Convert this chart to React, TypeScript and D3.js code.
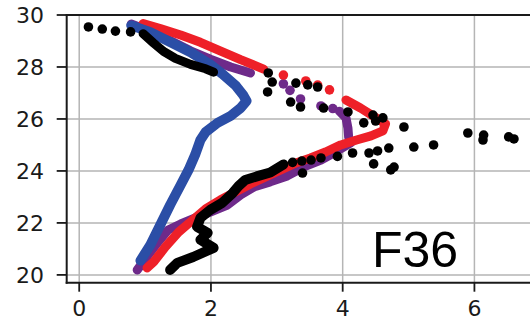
import React from "react";
import * as d3 from "d3";

const xTicks = [0, 2, 4, 6];
const yTicks = [20, 22, 24, 26, 28, 30];
const label = "F36";

type P = [number, number];

// Blue profile
const blueLine: P[] = [
  [0.79, 29.6], [1.08, 29.34], [1.38, 28.96], [1.69, 28.57], [1.99, 28.1],
  [2.17, 27.74], [2.37, 27.3], [2.49, 26.92], [2.54, 26.69], [2.45, 26.42],
  [2.3, 26.12], [2.1, 25.85], [1.92, 25.5], [1.84, 25.19], [1.76, 24.62],
  [1.66, 24.04], [1.54, 23.46], [1.38, 22.69], [1.23, 21.92], [1.08, 21.15],
  [0.93, 20.55],
];

// Red profile
const redUpper: P[] = [
  [0.97, 29.67], [1.23, 29.48], [1.54, 29.23], [1.84, 28.95], [2.14, 28.62],
  [2.45, 28.28], [2.8, 27.92],
];
const redDots: P[] = [
  [3.1, 27.69], [3.44, 27.46], [3.62, 27.3], [3.8, 27.12],
];
const redLower: P[] = [
  [4.05, 26.73], [4.27, 26.42], [4.46, 26.12], [4.65, 25.81], [4.61, 25.54],
  [4.43, 25.35], [4.21, 25.19], [3.97, 25.0], [3.74, 24.73], [3.51, 24.5],
  [3.29, 24.31], [3.06, 24.04], [2.83, 23.77], [2.6, 23.5], [2.37, 23.19],
  [2.14, 22.88], [1.92, 22.54], [1.69, 22.04], [1.51, 21.65], [1.31, 21.08],
  [1.13, 20.5], [1.03, 20.27],
];

// Purple profile
const purpleUpper: P[] = [
  [0.79, 29.65], [1.08, 29.38], [1.38, 29.02], [1.69, 28.62], [1.99, 28.3],
  [2.3, 28.0], [2.6, 27.77],
];
const purpleDots: P[] = [
  [3.1, 27.35], [3.2, 27.1], [3.36, 26.77], [3.67, 26.5], [3.85, 26.4],
];
const purpleLower: P[] = [
  [3.95, 26.3], [4.05, 26.04], [4.08, 25.65], [4.09, 25.31], [4.12, 25.08],
  [3.89, 24.73], [3.67, 24.42], [3.44, 24.19], [3.16, 23.81], [2.9, 23.58],
  [2.65, 23.38], [2.45, 23.08], [2.25, 22.69], [1.99, 22.42], [1.76, 22.19],
  [1.54, 21.96], [1.35, 21.73], [1.2, 21.27], [1.05, 20.77], [0.88, 20.19],
];

// Black profile
const blackTopDots: P[] = [
  [0.14, 29.54], [0.35, 29.46], [0.55, 29.38], [0.78, 29.35],
];
const blackUpper: P[] = [
  [0.97, 29.28], [1.13, 28.92], [1.28, 28.6], [1.46, 28.33], [1.69, 28.1],
  [1.92, 27.93], [2.04, 27.8],
];
const blackScatter: P[] = [
  [2.87, 27.77], [2.93, 27.42], [2.86, 27.04], [3.29, 27.38], [3.47, 27.31],
  [3.62, 27.23], [3.21, 26.65], [3.36, 26.46], [3.71, 26.42], [4.08, 26.27],
  [4.46, 26.15], [4.61, 26.04], [4.32, 25.85], [4.5, 25.92], [4.93, 25.69],
  [5.9, 25.46], [6.14, 25.38], [6.13, 25.19], [6.52, 25.31], [6.6, 25.23],
  [5.38, 25.0], [5.08, 24.92], [4.7, 24.88], [4.53, 24.77], [4.4, 24.69],
  [4.47, 24.27], [4.78, 24.15], [4.73, 24.04], [3.39, 23.92],
  [4.15, 24.69], [3.92, 24.56], [3.67, 24.5], [3.52, 24.42], [3.38, 24.38],
  [3.24, 24.33],
];
const blackLower: P[] = [
  [3.1, 24.25], [2.9, 23.94], [2.72, 23.81], [2.52, 23.65], [2.42, 23.42],
  [2.33, 23.15], [2.17, 22.77], [1.99, 22.5], [1.84, 22.19], [1.79, 21.85],
  [1.95, 21.62], [1.84, 21.35], [2.04, 21.04], [1.73, 20.69], [1.49, 20.46],
  [1.38, 20.19],
];

const W = 530;
const H = 321;
const left = 66.7;
const right = 533.7;
const top = 15;
const bottom = 282.7;

const BLACK = "#000000";
const RED = "#ee2028";
const BLUE = "#2b4ea6";
const PURPLE = "#6e2a8a";

export default function App() {
  const x = d3.scaleLinear().domain([-0.19, 6.9]).range([left, right]);
  const y = d3.scaleLinear().domain([19.7, 30]).range([bottom, top]);
  const line = d3
    .line<P>()
    .x((d) => x(d[0]))
    .y((d) => y(d[1]))
    .curve(d3.curveLinear);

  const lineEl = (data: P[], color: string, key: string, w = 9) => (
    <path
      key={key}
      d={line(data) || ""}
      fill="none"
      stroke={color}
      strokeWidth={w}
      strokeLinecap="round"
      strokeLinejoin="round"
    />
  );
  const dotsEl = (data: P[], color: string, key: string) => (
    <g key={key}>
      {data.map((d, i) => (
        <circle key={i} cx={x(d[0])} cy={y(d[1])} r={4.8} fill={color} />
      ))}
    </g>
  );

  return (
    <svg
      width={W}
      height={H}
      style={{ position: "absolute", left: 0, top: 0, background: "#fff" }}
    >
      <defs>
        <clipPath id="plot">
          <rect x={left} y={top} width={right - left} height={bottom - top} />
        </clipPath>
      </defs>
      {/* grid */}
      <g stroke="#b5b5b5" strokeWidth={1.5}>
        {xTicks.map((t) => (
          <line key={"gx" + t} x1={x(t)} x2={x(t)} y1={top} y2={bottom} />
        ))}
        {yTicks.map((t) => (
          <line key={"gy" + t} x1={left} x2={right} y1={y(t)} y2={y(t)} />
        ))}
      </g>
      {/* data */}
      <g clipPath="url(#plot)">
        {lineEl(purpleUpper, PURPLE, "pu")}
        {dotsEl(purpleDots, PURPLE, "pd")}
        {lineEl(purpleLower, PURPLE, "pl")}
        {lineEl(redUpper, RED, "ru")}
        {dotsEl(redDots, RED, "rd")}
        {lineEl(redLower, RED, "rl")}
        {lineEl(blueLine, BLUE, "bl", 10)}
        {dotsEl(blackTopDots, BLACK, "kt")}
        {lineEl(blackUpper, BLACK, "ku", 9)}
        {dotsEl(blackScatter, BLACK, "ks")}
        {lineEl(blackLower, BLACK, "kl", 10)}
      </g>
      {/* spines */}
      <g stroke="#1a1a1a" strokeWidth={2} fill="none">
        <line x1={left} x2={left} y1={top - 1} y2={bottom + 1} />
        <line x1={left - 1} x2={right} y1={bottom} y2={bottom} />
        <line x1={left - 1} x2={right} y1={top} y2={top} />
        <line x1={right} x2={right} y1={top} y2={bottom} />
      </g>
      {/* ticks */}
      <g stroke="#1a1a1a" strokeWidth={1.8}>
        {xTicks.map((t) => (
          <line key={"tx" + t} x1={x(t)} x2={x(t)} y1={bottom} y2={bottom + 9} />
        ))}
        {yTicks.map((t) => (
          <line key={"ty" + t} x1={left - 10} x2={left} y1={y(t)} y2={y(t)} />
        ))}
      </g>
      <g
        fontFamily="DejaVu Sans, sans-serif"
        fontSize={22}
        fill="#1a1a1a"
      >
        {xTicks.map((t) => (
          <text key={"lx" + t} x={x(t)} y={316} textAnchor="middle">
            {t}
          </text>
        ))}
        {yTicks.map((t) => (
          <text
            key={"ly" + t}
            x={44}
            y={y(t) + 8}
            textAnchor="end"
          >
            {t}
          </text>
        ))}
      </g>
      <text
        x={372}
        y={267}
        fontFamily="Liberation Sans, Arial, sans-serif"
        fontSize={50}
        fill="#000"
      >
        {label}
      </text>
    </svg>
  );
}
